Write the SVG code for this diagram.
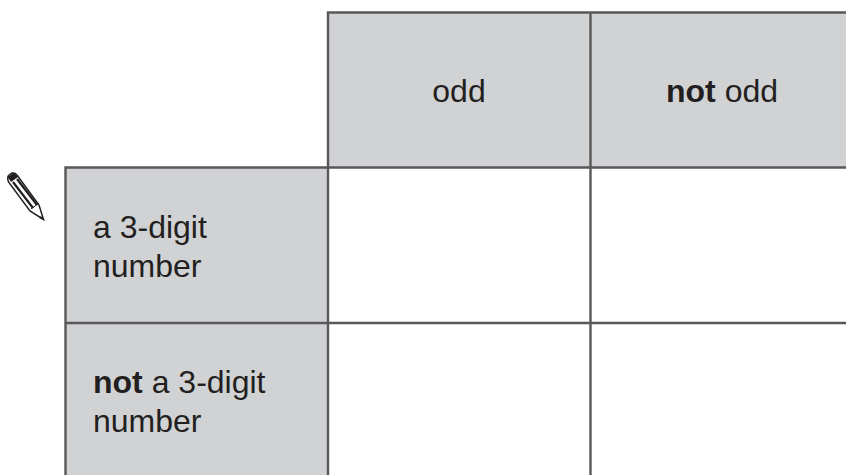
<svg xmlns="http://www.w3.org/2000/svg" width="846" height="475" viewBox="0 0 846 475">
<style>
.h{fill:#d1d2d4}
.g{stroke:#58585a;stroke-width:2.400;fill:none}
text{font-family:"Liberation Sans",Arial,sans-serif;font-size:32px;fill:#231f20}
.b{font-weight:bold}
</style>
<rect width="846" height="475" fill="#fff"/>
<g id="header-odd"><rect class="h" x="328" y="12" width="262" height="155"/><text x="459" y="102" text-anchor="middle">odd</text></g>
<g id="header-not-odd"><rect class="h" x="590" y="12" width="256" height="155"/><text x="722" y="102" text-anchor="middle"><tspan class="b">not</tspan> odd</text></g>
<g id="row-3digit"><rect class="h" x="65" y="167" width="263" height="156"/><text x="93" y="238">a 3-digit</text><text x="93" y="277">number</text></g>
<g id="row-not-3digit"><rect class="h" x="65" y="323" width="263" height="152"/><text x="93" y="393"><tspan class="b">not</tspan> a 3-digit</text><text x="93" y="432">number</text></g>
<g id="grid">
<path class="g" d="M846 12.500H328V475M65.500 475V167.500H846M65 323H846M590.500 12V475"/>
</g>
<g id="pencil">
<path d="M8.500 175.500L12 173Q15 172.500 17 175L39 205L43.500 219.500L30 211L8.500 182Q7 178 8.500 175.500Z" fill="#fff" stroke="#231f20" stroke-width="1.500"/>
<path d="M7.500 177L14 172.500L18 177L11 182Z" fill="#231f20"/>
<path d="M13 182L33 208M17 179L37 205" stroke="#231f20" stroke-width="2.200" fill="none"/>
<path d="M31 209L39 203" stroke="#231f20" stroke-width="1"/>
<path d="M41 216L43.500 220L39 218Z" fill="#231f20"/>
</g>
</svg>
